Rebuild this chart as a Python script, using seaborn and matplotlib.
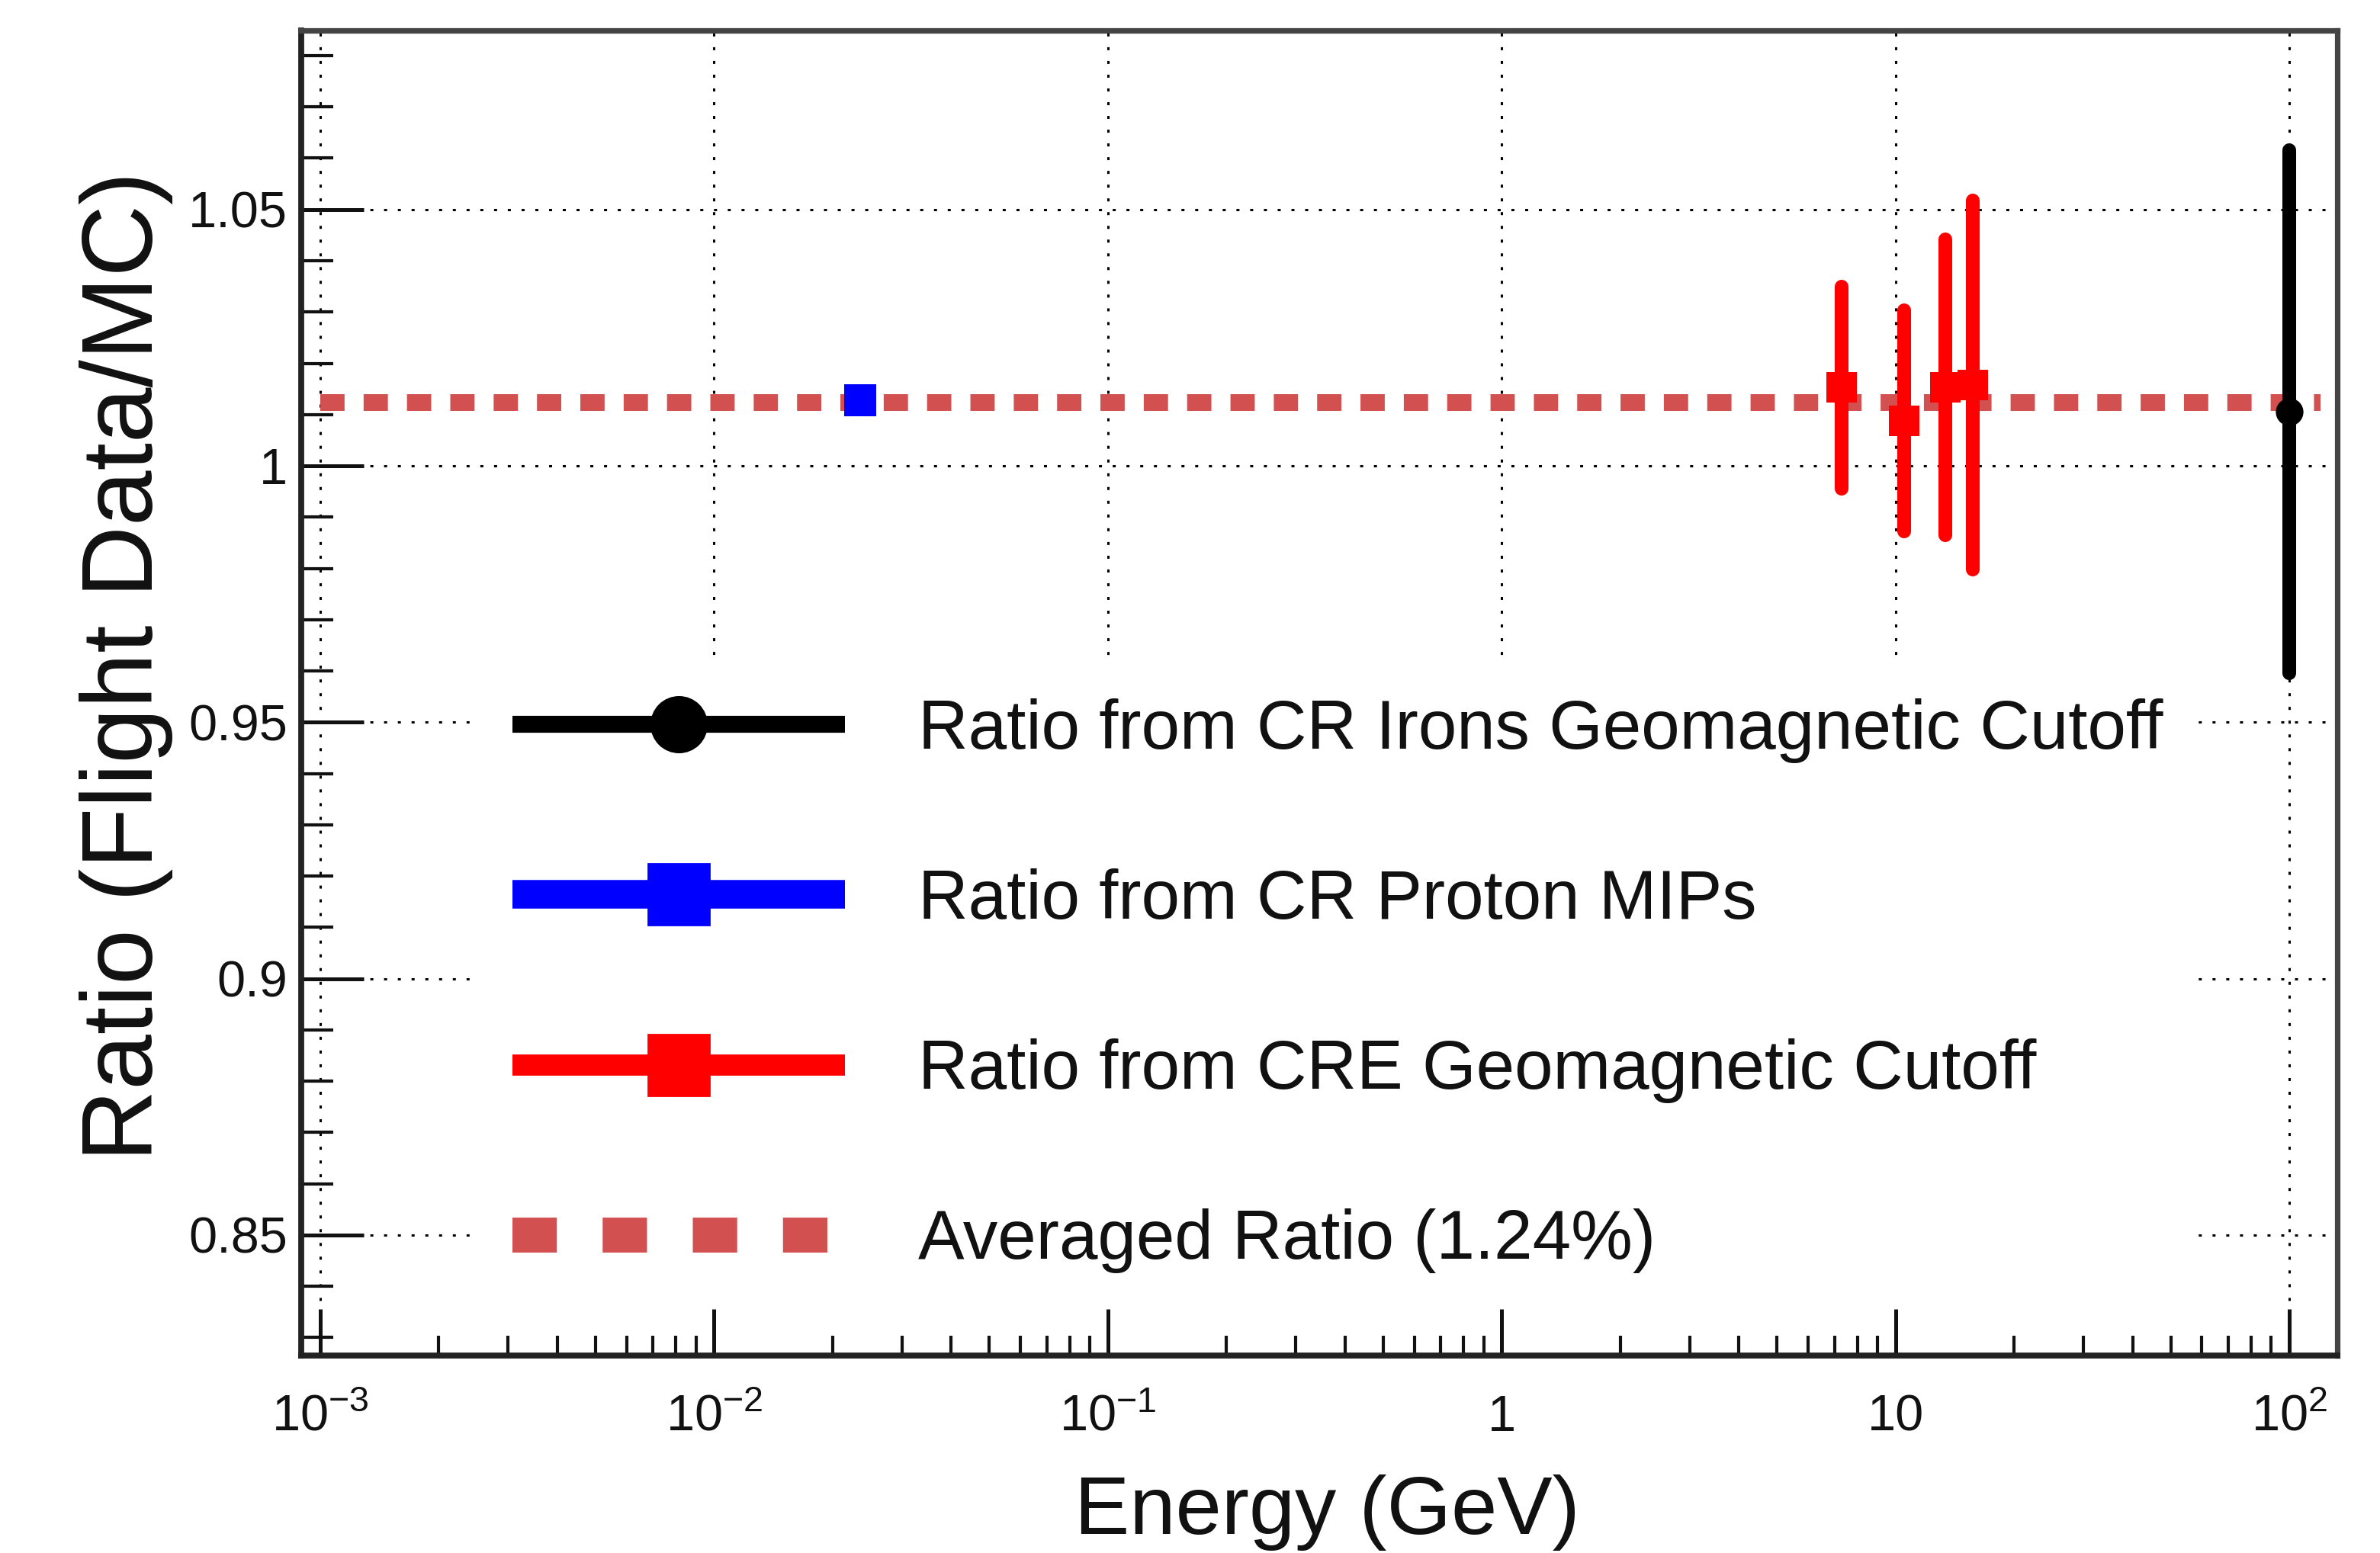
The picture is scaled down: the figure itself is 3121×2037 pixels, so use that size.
import matplotlib
matplotlib.use("Agg")
import matplotlib.pyplot as plt
from matplotlib.lines import Line2D
from matplotlib.ticker import FixedLocator, FixedFormatter, LogLocator, MultipleLocator, NullFormatter
import pandas as pd
import seaborn as sns

# ---- data -------------------------------------------------------------
# CR iron geomagnetic cutoff
iron_energy = [100.0]
iron_ratio = [1.0105]
iron_err = [0.051]

# CR proton MIPs
proton_energy = [0.0235]
proton_ratio = [1.0128]
proton_err = [0.0015]

# CRE geomagnetic cutoff
cre_energy = [7.3, 10.5, 13.4, 15.7]
cre_ratio = [1.0153, 1.0088, 1.0153, 1.0158]
cre_err = [0.0197, 0.0216, 0.0288, 0.036]

# averaged ratio (1.24 %)
avg_ratio = 1.0124
avg_energy_span = [1e-3, 120.0]

x_ticks = [1e-3, 1e-2, 1e-1, 1, 10, 100]
x_tick_labels = [r"$10^{-3}$", r"$10^{-2}$", r"$10^{-1}$", "1", "10", r"$10^{2}$"]
y_ticks = [0.85, 0.90, 0.95, 1.00, 1.05]
y_tick_labels = ["0.85", "0.9", "0.95", "1", "1.05"]

legend_labels = [
    "Ratio from CR Irons Geomagnetic Cutoff",
    "Ratio from CR Proton MIPs",
    "Ratio from CRE Geomagnetic Cutoff",
    "Averaged Ratio (1.24%)",
]

# ---- style ------------------------------------------------------------
sns.set_theme(style="white")
plt.rcParams["font.family"] = ["Liberation Sans", "DejaVu Sans"]
plt.rcParams["mathtext.fontset"] = "custom"
plt.rcParams["mathtext.rm"] = "Liberation Sans"
plt.rcParams["mathtext.it"] = "Liberation Sans:italic"
plt.rcParams["mathtext.default"] = "regular"

IRON_C = "#000000"
PROTON_C = "#0000ff"
CRE_C = "#ff0000"
AVG_C = "#d35050"

fig = plt.figure(figsize=(15.605, 10.185), dpi=200)
ax = fig.add_axes([0.12656, 0.12715, 0.85549, 0.85322])
ax.set_xscale("log")

# averaged ratio line
avg_df = pd.DataFrame({"energy": avg_energy_span, "ratio": [avg_ratio] * len(avg_energy_span)})
sns.lineplot(data=avg_df, x="energy", y="ratio", ax=ax, color=AVG_C, linewidth=7.9,
             linestyle=(0, (1.45, 1.14)), zorder=3, legend=False)

# error bars
def draw_bars(x, y, err, color, z):
    eb = ax.errorbar(x, y, yerr=err, fmt="none", ecolor=color, elinewidth=6.5,
                     capsize=0, zorder=z)
    for coll in eb.lines[2]:
        coll.set_capstyle("round")

draw_bars(proton_energy, proton_ratio, proton_err, PROTON_C, 4)
draw_bars(cre_energy, cre_ratio, cre_err, CRE_C, 4)
draw_bars(iron_energy, iron_ratio, iron_err, IRON_C, 4)

# markers
sns.scatterplot(x=proton_energy, y=proton_ratio, marker="s", s=220, color=PROTON_C,
                linewidth=0, ax=ax, zorder=4.5)
sns.scatterplot(x=cre_energy, y=cre_ratio, marker="s", s=200, color=CRE_C,
                linewidth=0, ax=ax, zorder=4.5)
sns.scatterplot(x=iron_energy, y=iron_ratio, marker="o", s=170, color=IRON_C,
                linewidth=0, ax=ax, zorder=4.5)

# axes ranges
ax.set_xlim(0.000895, 132.4)
ax.set_ylim(0.8265, 1.0849)

# ticks
ax.xaxis.set_major_locator(FixedLocator(x_ticks))
ax.xaxis.set_major_formatter(FixedFormatter(x_tick_labels))
ax.xaxis.set_minor_locator(LogLocator(base=10, subs=range(2, 10), numticks=20))
ax.xaxis.set_minor_formatter(NullFormatter())
ax.yaxis.set_major_locator(FixedLocator(y_ticks))
ax.yaxis.set_major_formatter(FixedFormatter(y_tick_labels))
ax.yaxis.set_minor_locator(MultipleLocator(0.01))

ax.tick_params(axis="both", which="both", direction="in", colors="#111111",
               bottom=True, left=True, top=False, right=False)
ax.tick_params(axis="y", which="major", length=29.5, width=1.8, labelsize=24, pad=6.5)
ax.tick_params(axis="y", which="minor", length=15, width=1.5)
ax.tick_params(axis="x", which="major", length=22, width=1.8, labelsize=24, pad=35.5)
ax.tick_params(axis="x", which="minor", length=9.5, width=1.5)
for lab in ax.get_xticklabels():
    lab.set_verticalalignment("baseline")

# grid
ax.grid(True, which="major", color="black", linestyle=(0, (1.3, 4.6)), linewidth=1.1)
ax.grid(False, which="minor")
ax.set_axisbelow(True)

# frame
for side in ["left", "bottom"]:
    ax.spines[side].set_color("#222222")
    ax.spines[side].set_linewidth(2.8)
for side in ["top", "right"]:
    ax.spines[side].set_color("#444444")
    ax.spines[side].set_linewidth(2.6)

# axis titles
ax.set_xlabel("Energy (GeV)", fontsize=39, color="#111111")
ax.xaxis.set_label_coords(0.504, -0.090)
ax.set_ylabel("Ratio (Flight Data/MC)", fontsize=47, color="#111111")
ax.yaxis.set_label_coords(-0.0629, 0.520)

# legend
handles = [
    Line2D([], [], color=IRON_C, lw=8, marker="o", markersize=26, solid_capstyle="butt"),
    Line2D([], [], color=PROTON_C, lw=13.5, marker="s", markersize=29, solid_capstyle="butt"),
    Line2D([], [], color=CRE_C, lw=10, marker="s", markersize=29, solid_capstyle="butt"),
    Line2D([], [], color=AVG_C, lw=16.5, linestyle=(0, (1.27, 1.31)), dash_capstyle="butt"),
]
leg = ax.legend(handles, legend_labels, loc="upper left", bbox_to_anchor=(0.0868, 0.522),
                frameon=True, fancybox=False, framealpha=1, edgecolor="none",
                facecolor="white", fontsize=32.7, handlelength=4.8, handletextpad=1.05,
                labelspacing=1.52, borderpad=0.5, borderaxespad=0, numpoints=1)
for t in leg.get_texts():
    t.set_color("#111111")

fig.savefig("out.png", dpi=200, facecolor="white")
